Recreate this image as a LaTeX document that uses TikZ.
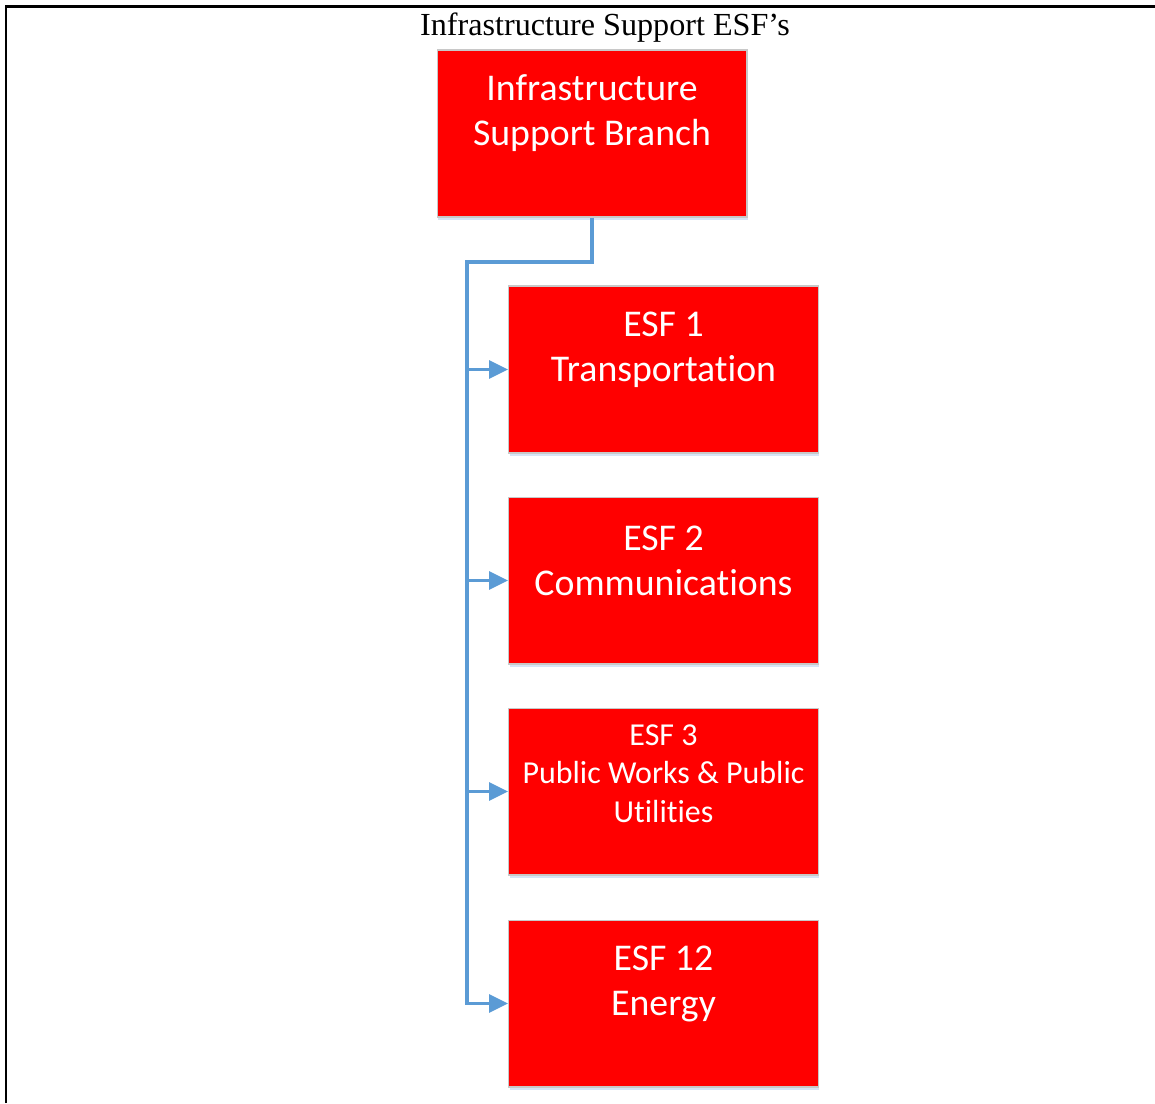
\documentclass[tikz,border=0pt]{standalone}
\usepackage{fontspec}
\setmainfont{Liberation Serif}
\newfontfamily\boxfont[Ligatures={NoCommon}]{Carlito}
\usetikzlibrary{arrows.meta,shadows}

\definecolor{esfred}{RGB}{255,0,0}
\definecolor{esfedge}{RGB}{200,200,200}
\definecolor{esfshade}{RGB}{215,228,245}
\definecolor{linkblue}{RGB}{91,155,213}

\tikzset{
	esfbox/.style={rectangle,fill=esfred,draw=esfedge,line width=0.6pt,
		minimum width=6.2cm,minimum height=3.34cm,inner sep=0pt,
		drop shadow={shadow xshift=0.02cm,shadow yshift=-0.06cm,fill=esfshade,opacity=1}},
	esftext/.style={text=white,align=center,font=\boxfont\fontsize{21.5}{25.6}\selectfont},
	esfsmall/.style={text=white,align=center,font=\boxfont\fontsize{18.2}{21.9}\selectfont},
	link/.style={draw=linkblue,line width=0.065cm},
	linkarrow/.style={link,-{Triangle[length=0.38cm,width=0.36cm]}}
}

\begin{document}
\begin{tikzpicture}[x=0.02cm,y=-0.02cm]
	\useasboundingbox (0,0) rectangle (1155,1103);
	% frame
	\draw[line width=0.06cm] (6,1103) -- (6,6) -- (1155,6);
	\node[font=\fontsize{18.3}{21}\selectfont] (title) at (605,28) {Infrastructure Support ESF’s};
	% boxes
	\node[esfbox,label={[esftext,yshift=0.40cm]center:Infrastructure\\Support Branch}] (isb) at (592,133.5) {};
	\node[esfbox,label={[esftext,yshift=0.40cm]center:ESF 1\\Transportation}] (esf1) at (663.5,369.5) {};
	\node[esfbox,label={[esftext,yshift=0.40cm]center:ESF 2\\Communications}] (esf2) at (663.5,580.5) {};
	\node[esfbox,label={[esfsmall,yshift=0.36cm]center:ESF 3\\Public Works \& Public\\Utilities}] (esf3) at (663.5,791.5) {};
	\node[esfbox,label={[esftext,yshift=0.40cm]center:ESF 12\\Energy}] (esf12) at (663.5,1003.5) {};
	% connectors
	\coordinate (bus) at (467,262);
	\draw[linkarrow] (isb.south) |- (bus) |- (esf12.west);
	\foreach \n in {esf1,esf2,esf3}
		\draw[linkarrow] (bus |- \n.west) -- (\n.west);
\end{tikzpicture}
\end{document}
